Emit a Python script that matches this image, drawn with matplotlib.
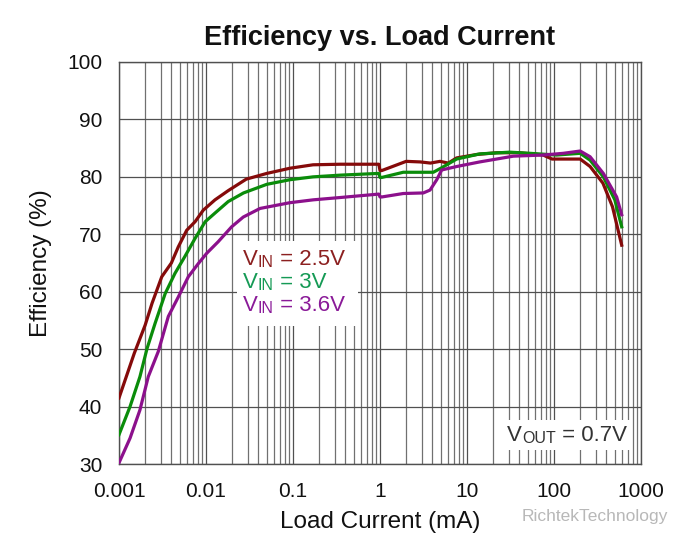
import matplotlib
matplotlib.use("Agg")
import matplotlib.pyplot as plt
from matplotlib.ticker import FixedLocator, FixedFormatter, LogLocator, NullFormatter
from matplotlib.patches import Rectangle

# ---------------- data ----------------
x_25 = [0.001, 0.0015, 0.002, 0.0024, 0.0031, 0.004, 0.0048, 0.006, 0.0075, 0.0093,
        0.0127, 0.018, 0.029, 0.05, 0.092, 0.17, 0.35, 0.97, 1.0, 1.05, 2.0, 2.9,
        3.8, 4.9, 6.1, 7.6, 13, 22, 40, 75, 95, 200, 260, 365, 470, 600]
eff_25 = [41.5, 49.3, 54.2, 58.0, 62.6, 65.0, 67.8, 70.7, 72.2, 74.2,
          76.0, 77.6, 79.6, 80.6, 81.5, 82.1, 82.2, 82.2, 81.1, 81.1, 82.7, 82.6,
          82.4, 82.7, 82.4, 83.3, 83.9, 84.2, 84.2, 83.8, 83.1, 83.1, 81.8, 78.9, 74.8, 68.1]

x_30 = [0.001, 0.00134, 0.00174, 0.0021, 0.0026, 0.0034, 0.0044, 0.0057, 0.0075, 0.0098,
        0.0127, 0.018, 0.027, 0.05, 0.092, 0.17, 0.35, 0.97, 1.0, 1.05, 1.85, 4.1,
        5.0, 7.6, 14, 31, 53, 107, 200, 260, 369, 500, 600]
eff_30 = [35.1, 40.0, 45.2, 50.1, 54.5, 59.7, 63.2, 66.1, 69.3, 72.2,
          73.7, 75.7, 77.2, 78.7, 79.5, 80.0, 80.3, 80.6, 79.9, 79.9, 80.8, 80.8,
          81.5, 83.1, 84.0, 84.3, 84.1, 83.8, 84.1, 82.9, 80.0, 76.0, 71.3]

x_36 = [0.001, 0.00134, 0.00174, 0.00217, 0.00283, 0.00369, 0.00481, 0.00626, 0.00816,
        0.0102, 0.0138, 0.0197, 0.0268, 0.0418, 0.092, 0.171, 0.347, 0.97, 1.0, 1.05,
        1.85, 3.15, 3.76, 4.49, 5.12, 7.6, 14, 34, 75, 128, 200, 260, 369, 525, 600]
eff_36 = [30.2, 34.5, 39.4, 45.2, 49.6, 55.7, 59.1, 62.6, 64.9,
          66.7, 68.7, 71.3, 73.0, 74.5, 75.5, 76.0, 76.4, 77.0, 76.5, 76.5,
          77.1, 77.2, 77.7, 79.5, 81.2, 81.8, 82.6, 83.6, 83.8, 84.1, 84.5, 83.5, 80.6, 76.5, 73.4]

x_ticks = [0.001, 0.01, 0.1, 1, 10, 100, 1000]
x_tick_labels = ["0.001", "0.01", "0.1", "1", "10", "100", "1000"]
y_ticks = [30, 40, 50, 60, 70, 80, 90, 100]

series_labels = ["2.5V", "3V", "3.6V"]
series_colors = ["#850a0a", "#0a8c0a", "#8c108c"]
legend_text_colors = ["#8c2020", "#159a55", "#8a1a98"]

# ---------------- figure ----------------
FONT = "Liberation Sans"
plt.rcParams["font.family"] = [FONT, "DejaVu Sans"]

fig = plt.figure(figsize=(6.92, 5.49), dpi=100)
ax = fig.add_axes([119 / 692, 85 / 549, 522 / 692, 402 / 549])

for xs, ys, c in zip([x_25, x_30, x_36], [eff_25, eff_30, eff_36], series_colors):
    ax.plot(xs, ys, color=c, lw=2.3, zorder=4, solid_joinstyle="round")

ax.set_xscale("log")
ax.set_xlim(0.001, 1000)
ax.set_ylim(30, 100)

ax.xaxis.set_major_locator(FixedLocator(x_ticks))
ax.xaxis.set_major_formatter(FixedFormatter(x_tick_labels))
ax.xaxis.set_minor_locator(LogLocator(base=10, subs=range(2, 10), numticks=100))
ax.xaxis.set_minor_formatter(NullFormatter())
ax.set_yticks(y_ticks)

ax.grid(True, which="major", axis="both", color="#505050", lw=0.9, zorder=1)
ax.grid(True, which="minor", axis="x", color="#707070", lw=0.9, zorder=1)
ax.set_axisbelow(True)

ax.tick_params(axis="both", which="both", length=0, labelsize=15, colors="#111111")
ax.tick_params(axis="x", which="major", pad=13)
ax.tick_params(axis="y", which="major", pad=12)
for s in ax.spines.values():
    s.set_color("#505050")
    s.set_linewidth(1.0)

ax.set_title("Efficiency vs. Load Current", fontsize=19.5, fontweight="bold", pad=12, color="#111111")
ax.set_xlabel("Load Current (mA)", fontsize=17.5, labelpad=7, color="#111111")
ax.set_ylabel("Efficiency (%)", fontsize=17.5, labelpad=11, color="#111111")

# white boxes behind annotations
ax.add_patch(Rectangle((0.226, 0.343), 0.232, 0.212, transform=ax.transAxes,
                       facecolor="white", edgecolor="none", zorder=2))
ax.add_patch(Rectangle((0.737, 0.035), 0.246, 0.074, transform=ax.transAxes,
                       facecolor="white", edgecolor="none", zorder=2))


def sub_label(x, y, main, sub, rest, color, size=14.5):
    t1 = ax.text(x, y, main, transform=ax.transAxes, fontsize=size, color=color,
                 va="baseline", ha="left", zorder=5)
    t2 = ax.annotate(sub, xy=(1, 0), xycoords=t1, fontsize=size * 0.72, color=color,
                     va="bottom", ha="left", zorder=5)
    t3 = ax.annotate(rest, xy=(1, 0), xycoords=t2, fontsize=size, color=color,
                     va="bottom", ha="left", zorder=5)
    return t1, t2, t3


legend_baselines = [(464 - 265) / 402, (464 - 288) / 402, (464 - 311) / 402]
for lab, col, yb in zip(series_labels, legend_text_colors, legend_baselines):
    sub_label((243 - 119) / 522, yb, "V", "IN", " = " + lab, col, size=16)

sub_label((507 - 119) / 522, (464 - 441) / 402, "V", "OUT", " = 0.7V", "#333333", size=16)

# watermark
fig.text(668 / 692, 1 - 517 / 549, "RichtekTechnology", fontsize=12.5, color="#b8b8b8",
         ha="right", va="center")

fig.savefig("out.png", dpi=100)
